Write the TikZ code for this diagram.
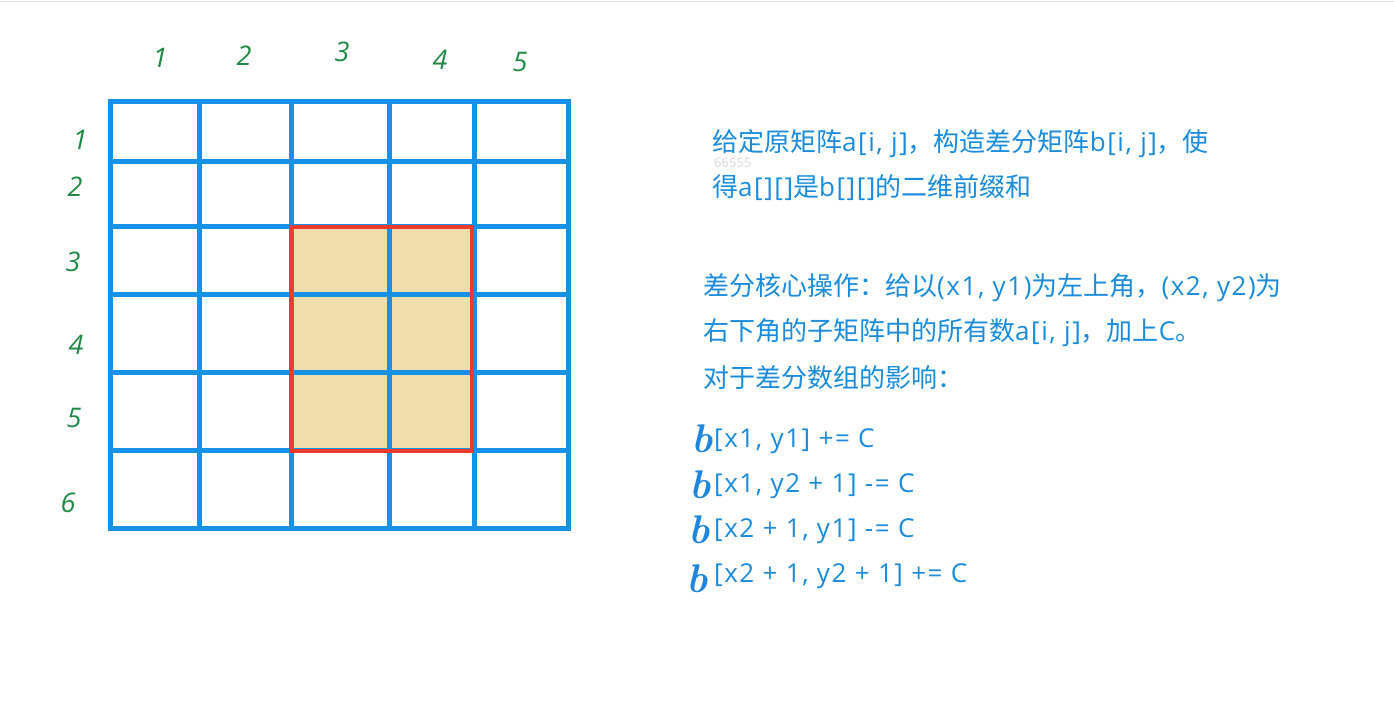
\documentclass[tikz,border=0pt]{standalone}
\usepackage{fontspec}
\newfontfamily\cjk{Noto Sans CJK SC}
\newfontfamily\lat[LetterSpace=6]{Open Sans}
\newfontfamily\latplain{Open Sans}
\definecolor{gridblue}{HTML}{1592E6}
\definecolor{txtblue}{HTML}{1A8CDB}
\definecolor{handg}{HTML}{1F8A45}
\definecolor{handb}{HTML}{1E86DC}
\definecolor{fillc}{HTML}{EFDDAB}
\definecolor{redc}{HTML}{EC3A2E}
\newcommand{\la}[1]{{\lat #1}}
\begin{document}
\begin{tikzpicture}[x=1pt,y=-1pt,
  txt/.style={font=\cjk\fontsize{26}{30}\selectfont, text=txtblue, anchor=west, inner sep=0pt},
  ftxt/.style={txt, font=\lat\fontsize{26}{30}\selectfont},
  lbl/.style={font=\latplain\fontsize{27}{30}\selectfont\itshape, text=handg, inner sep=0pt},
  hb/.style={font=\fontsize{40}{40}\selectfont\bfseries\itshape, text=handb, inner sep=0pt},
  gl/.style={draw=gridblue, line width=5pt, line cap=rect},
  box/.style={draw=redc, line width=4pt}]
\useasboundingbox[fill=white] (0,0) rectangle (1394,709);
\draw[black!12, line width=1.5pt] (0,1.5) -- (1394,1.5);
% shaded sub-matrix
\fill[fillc] (291,227) rectangle (472,451);
% grid
\foreach \x in {110,199,291,389,474,568} \draw[gl] (\x,101) -- (\x,528);
\foreach \y in {101,161,226,294,372,450,528} \draw[gl] (110,\y) -- (568,\y);
\draw[box] (291,227) rectangle (472,451);
% column labels
\node[lbl] (c1) at (160,58) {1};
\node[lbl] (c2) at (244,56) {2};
\node[lbl] (c3) at (342,52) {3};
\node[lbl] (c4) at (440,60) {4};
\node[lbl] (c5) at (520,62) {5};
% row labels
\node[lbl] (r1) at (80,140) {1};
\node[lbl] (r2) at (75,187) {2};
\node[lbl] (r3) at (73,262) {3};
\node[lbl] (r4) at (76,345) {4};
\node[lbl] (r5) at (74,418) {5};
\node[lbl] (r6) at (68,503) {6};
% texts
\node[txt] (t1) at (712,144) {给定原矩阵\la{a[i, j]}，构造差分矩阵\la{b[i, j]}，使};
\node[font=\latplain\fontsize{13}{14}\selectfont, text=black!15, anchor=west, inner sep=0pt] (wm) at (714,163) {66555};
\node[txt] (t2) at (712,188) {得\la{a[][]}是\la{b[][]}的二维前缀和};
\node[txt] (t3) at (703,288) {差分核心操作：给以\la{(x1, y1)}为左上角，\la{(x2, y2)}为};
\node[txt] (t4) at (703,333) {右下角的子矩阵中的所有数\la{a[i, j]}，加上\la{C}。};
\node[txt] (t5) at (703,378) {对于差分数组的影响：};
% formulas
\node[hb] (b1) at (702,439) {b};
\node[ftxt] (f1) at (714,441) {[x1, y1] += C};
\node[hb] (b2) at (700,485) {b};
\node[ftxt] (f2) at (714,486) {[x1, y2 + 1] -= C};
\node[hb] (b3) at (699,530) {b};
\node[ftxt] (f3) at (714,531) {[x2 + 1, y1] -= C};
\node[hb] (b4) at (697,579) {b};
\node[ftxt] (f4) at (714,576) {[x2 + 1, y2 + 1] += C};
\end{tikzpicture}
\end{document}
